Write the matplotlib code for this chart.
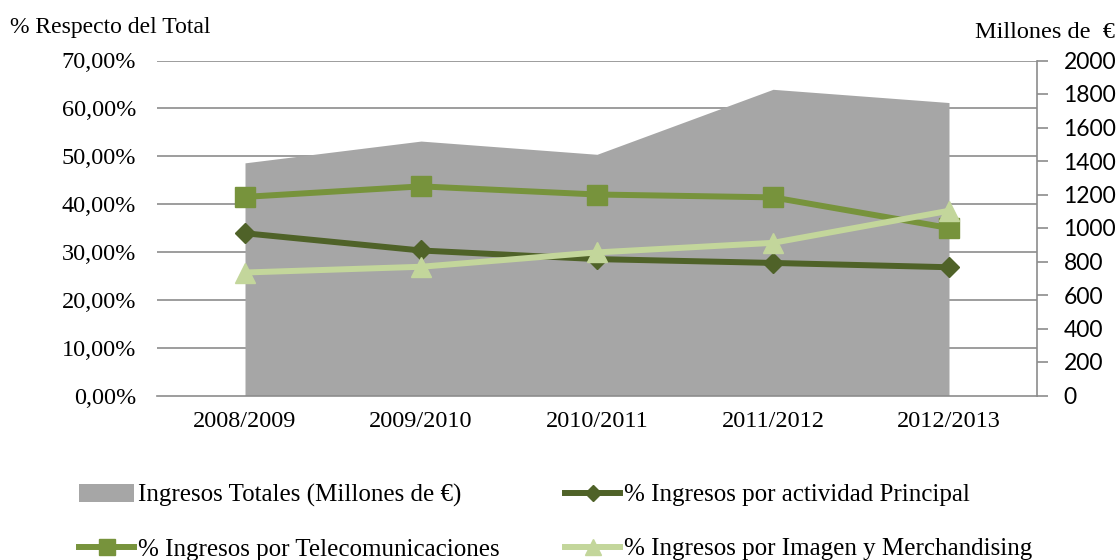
import matplotlib
matplotlib.use("Agg")
import matplotlib.pyplot as plt
from matplotlib.patches import Patch
from matplotlib.lines import Line2D
from matplotlib.ticker import FuncFormatter

categories = ["2008/2009", "2009/2010", "2010/2011", "2011/2012", "2012/2013"]
ingresos_totales = [1389, 1519, 1440, 1828, 1749]
pct_principal = [33.9, 30.3, 28.5, 27.7, 26.8]
pct_telecom = [41.5, 43.7, 42.0, 41.4, 35.0]
pct_imagen = [25.7, 26.9, 29.9, 31.9, 38.6]

left_ticks = [0, 10, 20, 30, 40, 50, 60, 70]
right_ticks = list(range(0, 2001, 200))

serif = ["Liberation Serif", "DejaVu Serif"]

c_area = "#A6A6A6"
c_principal = "#4F6228"
c_telecom = "#77933C"
c_imagen = "#C3D69B"
c_grid = "#8C8C8C"

FS = 17.5

fig = plt.figure(figsize=(11.19, 5.60), dpi=100)
ax = fig.add_axes([157/1119, 1-395.5/560, 880/1119, 335/560])
ax2 = ax.twinx()

x = list(range(len(categories)))

# area on right axis (drawn behind)
ax2.fill_between(x, 0, ingresos_totales, color=c_area, lw=0, zorder=1)
ax2.set_ylim(0, 2000)
ax2.set_yticks(right_ticks)
ax2.tick_params(axis="y", direction="out", length=8, width=1.2, color=c_grid,
                labelsize=16.5, pad=11, labelfontfamily="Lato")
for s in ["top", "left", "bottom"]:
    ax2.spines[s].set_visible(False)
ax2.spines["right"].set_color(c_grid)
ax2.spines["right"].set_linewidth(1.2)

# left axis lines drawn above
ax.set_zorder(ax2.get_zorder() + 1)
ax.patch.set_visible(False)
ax.set_ylim(0, 70)
ax.set_xlim(-0.5, len(categories) - 0.5)
ax.set_yticks(left_ticks)
ax.yaxis.set_major_formatter(FuncFormatter(lambda v, p: f"{v:.2f}".replace(".", ",") + "%"))
ax.set_xticks(x)
ax.set_xticklabels(categories)
ax.tick_params(axis="y", length=0, labelsize=FS, pad=15, labelfontfamily="Liberation Serif")
ax.tick_params(axis="x", length=0, labelsize=FS, pad=11, labelfontfamily="Liberation Serif")
for s in ["top", "left", "right"]:
    ax.spines[s].set_visible(False)
ax.spines["bottom"].set_color(c_grid)
ax.spines["bottom"].set_linewidth(1.2)

# gridlines behind the area
for v in left_ticks[1:]:
    ax2.axhline(v / 70 * 2000, color=c_grid, lw=1.2, zorder=0)

ax.plot(x, pct_principal, color=c_principal, lw=4.3, marker="D", ms=10.5, zorder=3)
ax.plot(x, pct_telecom, color=c_telecom, lw=4.3, marker="s", ms=14, zorder=3)
ax.plot(x, pct_imagen, color=c_imagen, lw=4.3, marker="^", ms=15, zorder=3)

fig.text(10/1119, 1-27/560, "% Respecto del Total", family=serif, fontsize=17,
         ha="left", va="center")
fig.text(1115/1119, 1-33/560, "Millones de  €", family=serif, fontsize=17.5,
         ha="right", va="center")

leg_kw = dict(loc="upper left", frameon=False, prop={"family": serif, "size": 18},
              handlelength=2.2, handletextpad=0.15, labelspacing=1.25,
              borderpad=0, borderaxespad=0)

h_col1 = [Patch(facecolor=c_area, edgecolor="none"),
          Line2D([], [], color=c_telecom, lw=4.3, marker="s", ms=12)]
l_col1 = ["Ingresos Totales (Millones de €)", "% Ingresos por Telecomunicaciones"]
h_col2 = [Line2D([], [], color=c_principal, lw=4.3, marker="D", ms=8.5),
          Line2D([], [], color=c_imagen, lw=4.3, marker="^", ms=12)]
l_col2 = ["% Ingresos por actividad Principal", "% Ingresos por Imagen y Merchandising"]

leg1 = fig.legend(h_col1, l_col1, bbox_to_anchor=(79/1119, 1-484/560), **leg_kw)
leg2 = fig.legend(h_col2, l_col2, bbox_to_anchor=(565/1119, 1-484/560), **leg_kw)

fig.savefig("out.png", dpi=100)
